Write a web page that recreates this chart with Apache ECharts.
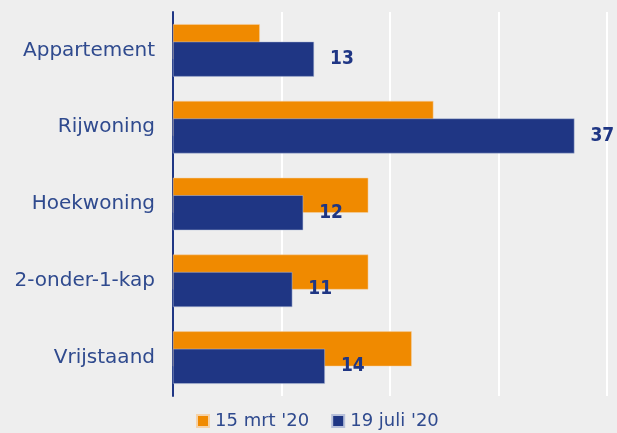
<!doctype html>
<html lang="nl">
<head>
	<meta charset="UTF-8">
	<title>Woningtype</title>
	<style>
		html, body { margin: 0; padding: 0; background: #eeeeee; }
		#chart { width: 617px; height: 433px; }
	</style>
</head>
<body>
<div id="chart"></div>
<script src="https://cdn.jsdelivr.net/npm/echarts@6/dist/echarts.min.js"></script>
<script>
	// data
	var categories = ['Appartement', 'Rijwoning', 'Hoekwoning', '2-onder-1-kap', 'Vrijstaand'];
	var seriesNames = ["15 mrt '20", "19 juli '20"];
	var mrt = [8, 24, 18, 18, 22];
	var juli = [13, 37, 12, 11, 14];

	var font = '"DejaVu Sans", sans-serif';
	var chart = echarts.init(document.getElementById('chart'));
	chart.setOption({
		backgroundColor: '#eeeeee',
		animation: false,
		grid: { left: 173, right: 10, top: 12, bottom: 37 },
		legend: {
			data: seriesNames,
			top: 407,
			left: 191,
			itemWidth: 12,
			itemHeight: 12,
			itemGap: 22,
			icon: 'rect',
			textStyle: { color: '#2f4a8e', fontSize: 18, fontFamily: font, padding: [0, 0, 0, 1] }
		},
		xAxis: {
			type: 'value',
			min: 0,
			max: 40,
			interval: 10,
			axisLabel: { show: false },
			axisLine: { show: false },
			axisTick: { show: false },
			splitLine: { lineStyle: { color: '#ffffff', width: 2 } }
		},
		yAxis: {
			type: 'category',
			data: categories,
			inverse: true,
			axisLine: { lineStyle: { color: '#1f3684', width: 2 } },
			axisTick: { show: false },
			axisLabel: { color: '#2f4a8e', fontSize: 20, fontFamily: font, margin: 18 }
		},
		series: [{
			name: seriesNames[0],
			type: 'bar',
			data: mrt,
			barWidth: 35,
			barGap: '-50%',
			itemStyle: { color: '#f08a00', borderColor: '#f5d2a8', borderWidth: 0.5 }
		}, {
			name: seriesNames[1],
			type: 'bar',
			data: juli,
			barWidth: 35,
			itemStyle: { color: '#1f3684', borderColor: '#b7c0da', borderWidth: 0.5 },
			label: {
				show: true,
				position: 'right',
				distance: 16,
				color: '#1f3684',
				fontSize: 19,
				fontWeight: 'bold',
				fontFamily: '"DejaVu Sans Condensed", "DejaVu Sans", sans-serif'
			}
		}]
	});
</script>
</body>
</html>
